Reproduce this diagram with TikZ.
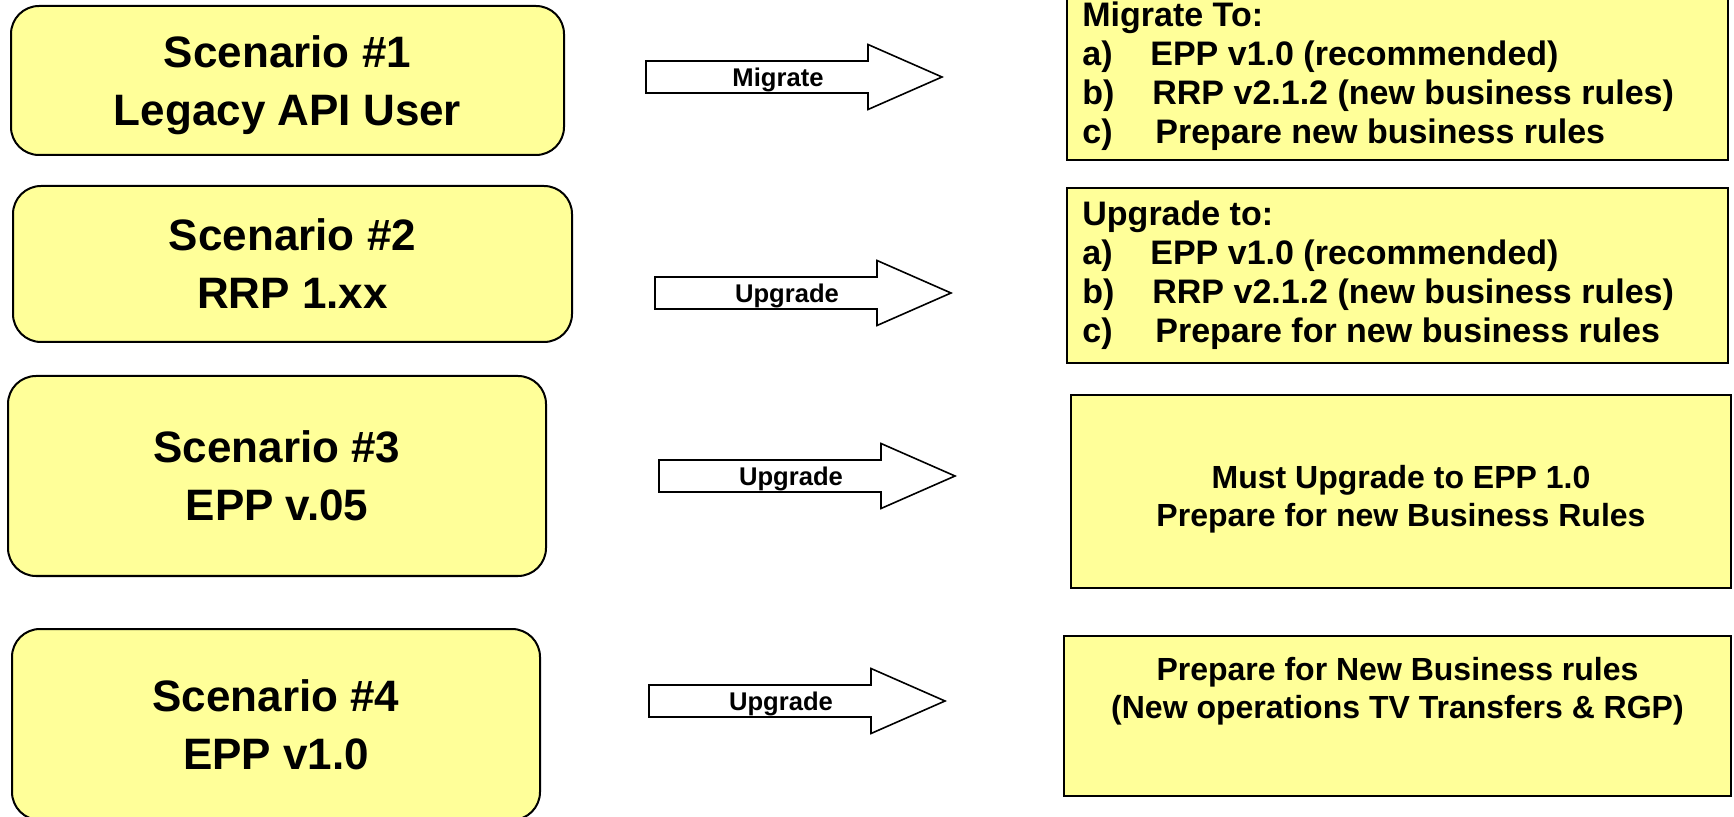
\documentclass[tikz,border=0pt]{standalone}
\usepackage{fontspec}
\setmainfont{Liberation Sans}
\usetikzlibrary{positioning}
\definecolor{scyellow}{RGB}{255,255,153}

\tikzset{
	scbox/.style={draw=black, line width=1pt, fill=scyellow, rounded corners=14pt, align=center,
		font=\fontsize{22}{29}\selectfont\bfseries},
	rbox/.style={draw=black, line width=1pt, fill=scyellow, inner sep=0pt},
	rtext/.style={inner sep=0pt, align=left, font=\fontsize{17}{19.5}\selectfont\bfseries},
	ctext/.style={inner sep=0pt, align=center, font=\fontsize{16}{19}\selectfont\bfseries},
	barrow/.style={draw=black, line width=0.8pt, fill=white},
	arrlab/.style={inner sep=0pt, font=\fontsize{12.8}{15}\selectfont\bfseries}
}

\begin{document}
\begin{tikzpicture}[x=0.5pt, y=-0.5pt]
	\useasboundingbox (0,0) rectangle (1734,817);
	% scenarios
	\node[scbox, minimum width=276.5pt, minimum height=74.5pt, text depth=0pt] (s1) at (287.5,80.5) {Scenario \#1\\Legacy API User};
	\node[scbox, minimum width=279.5pt, minimum height=78pt] (s2) at (292.5,264) {Scenario \#2\\RRP 1.xx};
	\node[scbox, minimum width=269pt, minimum height=100pt, text depth=-3pt] (s3) at (277,476) {Scenario \#3\\EPP v.05};
	\node[scbox, minimum width=264pt, minimum height=95.5pt, text depth=-2.5pt] (s4) at (276,724.5) {Scenario \#4\\EPP v1.0};
	%
	% block arrows
	\foreach \x/\y/\lab/\n in {646/77/Migrate/a1, 655/293/Upgrade/a2, 659/476/Upgrade/a3, 649/701/Upgrade/a4}{
		\draw[barrow] (\x,\y-16) -- ++(222,0) -- ++(0,-16.5) -- ++(74,32.5) -- ++(-74,32.5) -- ++(0,-16.5) -- ++(-222,0) -- cycle;
		\node[arrlab] (\n) at (\x+132,\y+3) {\lab};
	}
	%
	% results
	\node[rbox, minimum width=330.5pt, minimum height=90pt] (r1) at (1397.5,70) {};
	\node[rtext, right=8pt of r1.west, yshift=-3pt] (r1t) {Migrate To:\\
		\makebox[34pt][l]{a)}EPP v1.0 (recommended)\\
		\makebox[35pt][l]{b)}RRP v2.1.2 (new business rules)\\
		\makebox[36.5pt][l]{c)}Prepare new business rules};
	%
	\node[rbox, minimum width=330.5pt, minimum height=87.5pt] (r2) at (1397.5,275.5) {};
	\node[rtext, right=8pt of r2.west] (r2t) {Upgrade to:\\
		\makebox[34pt][l]{a)}EPP v1.0 (recommended)\\
		\makebox[35pt][l]{b)}RRP v2.1.2 (new business rules)\\
		\makebox[36.5pt][l]{c)}Prepare for new business rules};
	%
	\node[rbox, minimum width=330pt, minimum height=96.5pt] (r3) at (1401,491.5) {};
	\node[ctext] (r3t) at ([yshift=-4pt]r3.center) {Must Upgrade to EPP 1.0\\Prepare for new Business Rules};
	%
	\node[rbox, minimum width=333.5pt, minimum height=80pt] (r4) at (1397.5,716) {};
	\node[ctext, below=11pt of r4.north] (r4t) {Prepare for New Business rules\\(New operations TV Transfers \& RGP)};
\end{tikzpicture}
\end{document}
